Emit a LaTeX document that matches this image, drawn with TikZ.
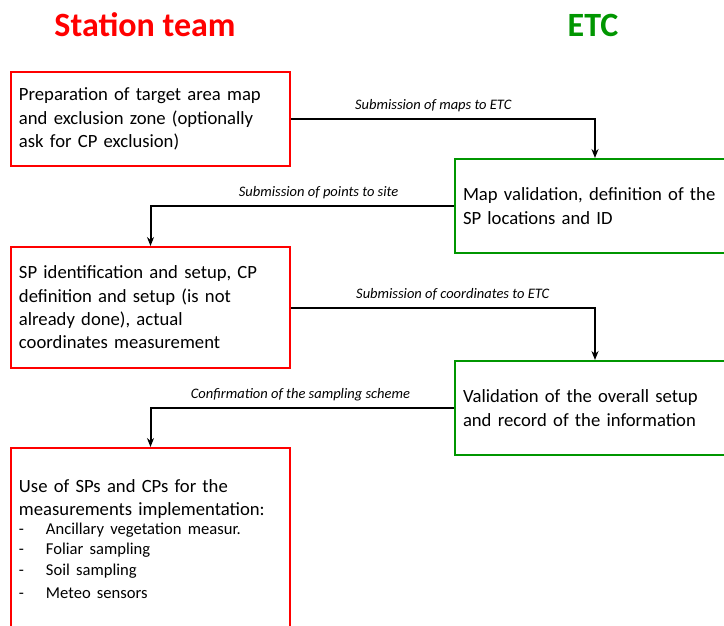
\documentclass[tikz,border=0pt]{standalone}
\usepackage{fontspec}
\setmainfont{Carlito}
\usetikzlibrary{arrows.meta,positioning}
\definecolor{stationred}{RGB}{255,0,0}
\definecolor{etcgreen}{RGB}{0,150,0}
\tikzset{
  stationbox/.style={draw=stationred, line width=2pt, anchor=north west,
    minimum width=279pt, inner sep=8pt, align=left,
    font=\fontsize{18.67}{23.3}\selectfont},
  etcbox/.style={draw=etcgreen, line width=2pt, anchor=north west,
    minimum width=280pt, inner sep=8pt, align=left,
    font=\fontsize{18.67}{23.3}\selectfont},
  flow/.style={line width=2pt, -{Stealth[length=9pt,width=7pt]}},
  msg/.style={font=\fontsize{14.5}{16}\itshape, above=3pt},
  lane/.style={font=\fontsize{34}{38}\bfseries\selectfont}
}
\begin{document}
\begin{tikzpicture}[x=1pt,y=-1pt]
  \clip (0,0) rectangle (724,625);
  % lane titles
  \node[lane, text=stationred] (station) at (145,25) {Station team};
  \node[lane, text=etcgreen] (etc) at (593,25) {ETC};
  % station team steps
  \node[stationbox, minimum height=94pt, text width=263pt] (prep) at (10,71)
    {Preparation of target area map\\and exclusion zone (optionally\\ask for CP exclusion)};
  \node[stationbox, minimum height=121pt, text width=263pt] (setup) at (10,246)
    {SP identification and setup, CP\\definition and setup (is not\\already done), actual\\coordinates measurement};
  \node[stationbox, minimum height=182pt, text width=263pt] (use) at (10,447)
    {Use of SPs and CPs for the\\measurements implementation:\\[-2pt]
     {\fontsize{16.6}{20.5}\selectfont
     \makebox[27pt][l]{-}Ancillary vegetation measur.\\
     \makebox[27pt][l]{-}Foliar sampling\\
     \makebox[27pt][l]{-}Soil sampling\\
     \makebox[27pt][l]{-}Meteo sensors}};
  % ETC steps
  \node[etcbox, minimum height=94pt, text width=264pt] (mapval) at (454,158)
    {Map validation, definition of the\\SP locations and ID};
  \node[etcbox, minimum height=94pt, text width=264pt] (overall) at (454,360)
    {Validation of the overall setup\\and record of the information};
  % exchanges
  \draw[flow] (prep.east) -| node[msg, pos=0.234] {Submission of maps to ETC} (mapval.north);
  \draw[flow] (mapval.west) -| node[msg, pos=0.223] {Submission of points to site} (setup.north);
  \draw[flow] (setup.east) -| node[msg, pos=0.266] {Submission of coordinates to ETC} (overall.north);
  \draw[flow] (overall.west) -| node[msg, pos=0.253] {Confirmation of the sampling scheme} (use.north);
\end{tikzpicture}
\end{document}
